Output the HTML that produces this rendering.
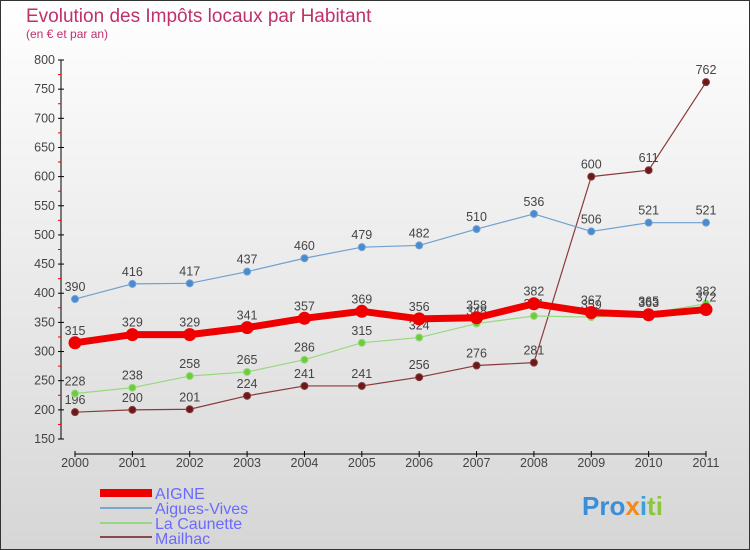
<!DOCTYPE html>
<html><head><meta charset="utf-8"><style>
body{margin:0;width:750px;height:550px;overflow:hidden}
svg{display:block;font-family:"Liberation Sans",sans-serif}
</style></head><body>
<svg id="c" width="750" height="550">
<defs><linearGradient id="bg" x1="0" y1="0" x2="0" y2="1"><stop offset="0" stop-color="#ffffff"/><stop offset="1" stop-color="#d6d6d6"/></linearGradient></defs>
<rect x="0.5" y="0.5" width="749" height="549" fill="url(#bg)" stroke="#333"/>
<text x="26" y="22" font-size="19" fill="#c0306a">Evolution des Impôts locaux par Habitant</text>
<text x="26" y="38" font-size="12" fill="#c0306a">(en € et par an)</text>
<g id="axes"></g><g id="series"></g>
<g>
<rect x="100" y="489" width="52" height="8" fill="#e00"/>
<text x="155" y="499" font-size="16" fill="#6a6aff">AIGNE</text>
<rect x="100" y="507" width="52" height="2" fill="#7aa6cc"/>
<text x="155" y="514" font-size="16" fill="#6a6aff">Aigues-Vives</text>
<rect x="100" y="522" width="52" height="2" fill="#98d880"/>
<text x="155" y="529" font-size="16" fill="#6a6aff">La Caunette</text>
<rect x="100" y="536" width="52" height="2" fill="#8a4a4a"/>
<text x="155" y="544" font-size="16" fill="#6a6aff">Mailhac</text>
</g>
<text x="582" y="515" font-size="26" font-weight="bold" fill="#3a8fd8">Pro<tspan fill="#f28a1a">x</tspan><tspan fill="#3aa0e0">i</tspan><tspan fill="#8ac83a">ti</tspan></text>
</svg>
<script>
const years=[2000,2001,2002,2003,2004,2005,2006,2007,2008,2009,2010,2011];
const yTicks=[150,200,250,300,350,400,450,500,550,600,650,700,750,800];
const aigne=[315,329,329,341,357,369,356,358,382,367,363,372];
const aiguesVives=[390,416,417,437,460,479,482,510,536,506,521,521];
const laCaunette=[228,238,258,265,286,315,324,348,361,359,365,382];
const mailhac=[196,200,201,224,241,241,256,276,281,600,611,762];
const NS="http://www.w3.org/2000/svg";
function X(i){return 75+i*(706-75)/(years.length-1);}
function Y(v){return 439-(v-150)*(439-60)/650;}
function mk(t,a,p){const e=document.createElementNS(NS,t);for(const k in a)e.setAttribute(k,a[k]);p.appendChild(e);return e;}
const ax=document.getElementById('axes');
let l=mk('line',{x1:61,y1:60,x2:61,y2:439,stroke:'#000'},ax);


l=mk('line',{x1:75,y1:454,x2:706,y2:454,stroke:'#000'},ax);


yTicks.forEach((v,i)=>{
 mk('line',{x1:58,y1:Y(v),x2:64,y2:Y(v),stroke:'#000'},ax);
 if(i<yTicks.length-1) mk('line',{x1:58,y1:Y(v+25),x2:61,y2:Y(v+25),stroke:'#e00'},ax);
 const t=mk('text',{x:55,y:Y(v)+4,'font-size':12.5,fill:'#444','text-anchor':'end'},ax);t.textContent=v;
 
 
});
years.forEach((y,i)=>{
 mk('line',{x1:X(i),y1:451,x2:X(i),y2:457,stroke:'#000'},ax);
 const t=mk('text',{x:X(i),y:467,'font-size':12.5,fill:'#444','text-anchor':'middle'},ax);t.textContent=y;
 
 
});
const sg=document.getElementById('series');
function draw(vals,name,color,w,dotFill,r){
 const g=mk('g',{},sg);
 
 
 mk('polyline',{points:vals.map((v,i)=>X(i)+','+Y(v)).join(' '),fill:'none',stroke:color,'stroke-width':w,'stroke-linejoin':'round'},g);
 vals.forEach((v,i)=>{
  const c=mk('circle',{cx:X(i),cy:Y(v),r:r,fill:dotFill,stroke:color,'stroke-width':1},g);
  
  
  const t=mk('text',{x:X(i),y:Y(v)-8,'font-size':12.5,fill:'#444','text-anchor':'middle'},g);t.textContent=v;
  
  
 });
}
draw(mailhac,'mailhac','#8a3a3a',1.2,'#6a1a1a',3.5);
draw(aiguesVives,'aigues-vives','#6fa0d0',1.2,'#4a8ad0',3.5);
draw(laCaunette,'la-caunette','#98d880',1.2,'#6ccc3a',3.5);
draw(aigne,'aigne','#ee0000',7,'#ee0000',6);
</script>
</body></html>
